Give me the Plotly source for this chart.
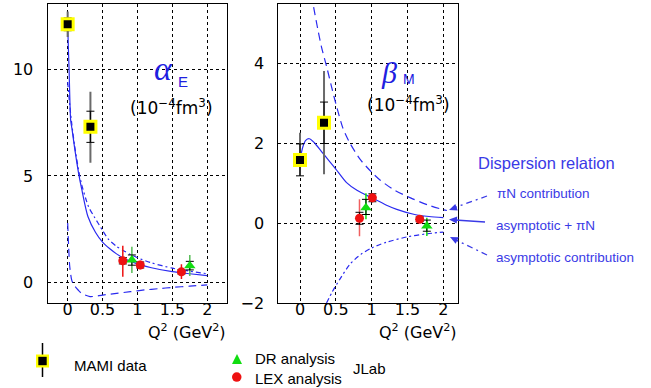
import plotly.graph_objects as go

W, H = 651, 388
def px(x): return x / W
def py(y): return 1 - y / H

BLUE = "#2a2af0"
TBLUE = "#3a3ae6"
RED = "#ee1111"
GREEN = "#11dd11"
YELLOW = "#ffff00"

# ---------------- data: alpha_E (left) ----------------
a_sum_q = [0, 0.01, 0.02, 0.043, 0.062, 0.1, 0.158, 0.2, 0.29, 0.4, 0.5, 0.6, 0.7, 0.8, 0.9, 1.0, 1.2, 1.5, 1.75, 2.0]
a_sum = [12.1, 11.0, 10.0, 7.6, 7.2, 6.3, 5.1, 4.4, 3.1, 2.35, 1.9, 1.6, 1.35, 1.15, 1.0, 0.88, 0.7, 0.52, 0.42, 0.33]
a_asy_q = [0, 0.03, 0.06, 0.1, 0.16, 0.2, 0.3, 0.38, 0.5, 0.58, 0.7, 0.8, 0.9, 1.0, 1.2, 1.5, 1.75, 2.0]
a_asy = [9.4, 8.3, 7.4, 6.4, 5.2, 4.6, 3.55, 3.09, 2.45, 2.05, 1.7, 1.5, 1.32, 1.17, 0.93, 0.68, 0.54, 0.42]
a_pin_q = [0, 0.015, 0.03, 0.06, 0.1, 0.15, 0.2, 0.32, 0.5, 0.7, 0.9, 1.1, 1.3, 1.5, 1.75, 2.0]
a_pin = [2.8, 1.6, 0.75, 0.1, -0.15, -0.34, -0.5, -0.65, -0.58, -0.5, -0.42, -0.34, -0.28, -0.22, -0.16, -0.1]

a_mami_q = [0.0, 0.326]
a_mami = [12.1, 7.3]
a_mami_stat = [0.3, 0.73]
a_mami_tot_p = [0.6, 1.64]
a_mami_tot_m = [0.6, 1.68]

a_lex_q = [0.79, 1.04, 1.63]
a_lex = [1.03, 0.83, 0.51]
a_lex_stat = [0.15, 0.14, 0.1]
a_lex_tot_p = [0.7, 0.2, 0.36]
a_lex_tot_m = [0.75, 0.2, 0.34]

a_dr_q = [0.92, 1.75]
a_dr = [1.06, 0.80]
a_dr_stat = [0.24, 0.2]
a_dr_tot_p = [0.62, 0.5]
a_dr_tot_m = [0.61, 0.49]

# ---------------- data: beta_M (right) ----------------
b_sum_q = [0, 0.04, 0.08, 0.13, 0.2, 0.3, 0.4, 0.5, 0.65, 0.8, 1.0, 1.2, 1.35, 1.6, 1.8, 2.0]
b_sum = [1.6, 1.92, 2.08, 2.12, 2.02, 1.8, 1.58, 1.36, 1.02, 0.82, 0.64, 0.46, 0.35, 0.22, 0.17, 0.14]
b_pin_q = [0.19, 0.25, 0.3, 0.37, 0.45, 0.5, 0.6, 0.7, 0.84, 1.0, 1.12, 1.3, 1.55, 1.8, 2.0, 2.05]
b_pin = [5.42, 4.85, 4.42, 3.94, 3.35, 3.0, 2.38, 2.0, 1.6, 1.28, 1.08, 0.85, 0.63, 0.45, 0.34, 0.32]
b_asy_q = [0.37, 0.45, 0.55, 0.7, 0.85, 1.0, 1.2, 1.5, 1.75, 2.0]
b_asy = [-2.0, -1.72, -1.42, -1.02, -0.78, -0.62, -0.48, -0.34, -0.27, -0.22]

b_mami_q = [0.0, 0.335]
b_mami = [1.59, 2.52]
b_mami_stat = [0.40, 0.52]
b_mami_tot_p = [0.68, 1.30]
b_mami_tot_m = [0.40, 1.29]

b_lex_q = [0.83, 1.01, 1.67]
b_lex = [0.125, 0.64, 0.10]
b_lex_stat = [0.15, 0.1, 0.06]
b_lex_tot_p = [0.48, 0.12, 0.08]
b_lex_tot_m = [0.45, 0.12, 0.08]

b_dr_q = [0.92, 1.77]
b_dr = [0.39, -0.07]
b_dr_stat_p = [0.21, 0.15]
b_dr_stat_m = [0.17, 0.13]
b_dr_tot_p = [0.36, 0.21]
b_dr_tot_m = [0.29, 0.25]

x_ticks = [0, 0.5, 1, 1.5, 2]
x_ticklabels = ["0", "0.5", "1", "1.5", "2"]
a_yticks = [0, 5, 10]
b_yticks = [-2, 0, 2, 4]

fig = go.Figure()

def curve(x, y, dash, xa, ya):
    fig.add_trace(go.Scatter(x=x, y=y, mode="lines", xaxis=xa, yaxis=ya,
                             line=dict(color=BLUE, width=1.2, dash=dash, shape="spline", smoothing=0.7),
                             showlegend=False, hoverinfo="skip"))

def points(x, y, statp, statm, totp, totm, sym, size, color, lcolor, lwidth, errcol, xa, ya, tthick=1.5):
    fig.add_trace(go.Scatter(x=x, y=y, mode="markers", xaxis=xa, yaxis=ya,
                             marker=dict(size=size, opacity=0),
                             error_y=dict(type="data", symmetric=False, array=totp, arrayminus=totm,
                                          color=errcol, thickness=tthick, width=0),
                             showlegend=False, hoverinfo="skip"))
    fig.add_trace(go.Scatter(x=x, y=y, mode="markers", xaxis=xa, yaxis=ya,
                             marker=dict(symbol=sym, size=size, color=color,
                                         line=dict(color=lcolor, width=lwidth)),
                             error_y=dict(type="data", symmetric=False, array=statp, arrayminus=statm,
                                          color="black", thickness=1, width=4),
                             showlegend=False, hoverinfo="skip"))

# left panel
curve(a_pin_q, a_pin, "8px,5px", "x", "y")
curve(a_asy_q, a_asy, "5px,3px,2px,3px", "x", "y")
curve(a_sum_q, a_sum, "solid", "x", "y")
points(a_mami_q, a_mami, a_mami_stat, a_mami_stat, a_mami_tot_p, a_mami_tot_m,
       "square", 11, "black", YELLOW, 3, "#6a6a6a", "x", "y", 2)
points(a_dr_q, a_dr, a_dr_stat, a_dr_stat, a_dr_tot_p, a_dr_tot_m,
       "triangle-up", 10, GREEN, GREEN, 0, "#55bb55", "x", "y")
points(a_lex_q, a_lex, a_lex_stat, a_lex_stat, a_lex_tot_p, a_lex_tot_m,
       "circle", 9, RED, RED, 0, RED, "x", "y")

# right panel
curve(b_pin_q, b_pin, "8px,5px", "x2", "y2")
curve(b_asy_q, b_asy, "5px,3px,2px,3px", "x2", "y2")
curve(b_sum_q, b_sum, "solid", "x2", "y2")
points(b_mami_q, b_mami, b_mami_stat, b_mami_stat, b_mami_tot_p, b_mami_tot_m,
       "square", 11, "black", YELLOW, 3, "#6a6a6a", "x2", "y2", 2)
points(b_dr_q, b_dr, b_dr_stat_p, b_dr_stat_m, b_dr_tot_p, b_dr_tot_m,
       "triangle-up", 10, GREEN, GREEN, 0, GREEN, "x2", "y2")
points(b_lex_q, b_lex, b_lex_stat, b_lex_stat, b_lex_tot_p, b_lex_tot_m,
       "circle", 9, RED, RED, 0, "#f06060", "x2", "y2")

TICKFONT = dict(family="DejaVu Sans", size=16, color="black")
common_x = dict(tickmode="array", tickvals=x_ticks, ticktext=x_ticklabels,
                showgrid=True, gridcolor="black", griddash="dot", gridwidth=1,
                zeroline=False, showline=True, mirror=True, linecolor="black", linewidth=1,
                ticks="", tickfont=TICKFONT, ticklabelstandoff=-8, automargin=False)
common_y = dict(showgrid=True, gridcolor="black", griddash="dot", gridwidth=1,
                zeroline=False, showline=True, mirror=True, linecolor="black", linewidth=1,
                ticks="", tickfont=TICKFONT, ticklabelstandoff=10, tickmode="array", automargin=False)

fig.update_layout(
    width=W, height=H, margin=dict(l=0, r=0, t=0, b=0, autoexpand=False),
    paper_bgcolor="white", plot_bgcolor="white", showlegend=False,
    xaxis=dict(domain=[px(47.5), px(227)], range=[-0.289, 2.283], anchor="y", **common_x),
    yaxis=dict(domain=[py(303), py(4)], range=[-0.95, 13.05], anchor="x",
               tickvals=a_yticks, ticktext=[str(v) for v in a_yticks], **common_y),
    xaxis2=dict(domain=[px(278.3), px(458.3)], range=[-0.303, 2.209], anchor="y2", **common_x),
    yaxis2=dict(domain=[py(303), py(4)], range=[-2, 5.5], anchor="x2",
                tickvals=b_yticks, ticktext=["\u22122", "0", "2", "4"], **common_y),
)

ann = []
def text(t, x, y, size, color="black", family="Liberation Sans", xanchor="left"):
    ann.append(dict(text=t, x=px(x), y=py(y), xref="paper", yref="paper", showarrow=False,
                    xanchor=xanchor, yanchor="middle", font=dict(family=family, size=size, color=color)))

# axis titles
text("Q<sup>2</sup> (GeV<sup>2</sup>)", 228, 331, 16, family="DejaVu Sans", xanchor="right")
text("Q<sup>2</sup> (GeV<sup>2</sup>)", 459, 331, 16, family="DejaVu Sans", xanchor="right")

# panel labels
text("<i>α</i>", 163, 68, 34, color="#2020e0", family="Liberation Serif", xanchor="center")
text("E", 183, 81, 15, color="#2020e0", xanchor="center")
text("(10<sup>\u22124</sup>fm<sup>3</sup>)", 171.5, 107, 17, family="DejaVu Sans", xanchor="center")
text("<i>β</i>", 388.5, 72, 30, color="#2020e0", family="Liberation Serif", xanchor="center")
text("M", 409, 79, 14, color="#2020e0", xanchor="center")
text("(10<sup>\u22124</sup>fm<sup>3</sup>)", 408.3, 104, 17, family="DejaVu Sans", xanchor="center")

# dispersion relation labels
text("Dispersion relation", 476, 163, 16.5, color=TBLUE)
text("πN contribution", 495, 193, 13.5, color=TBLUE)
text("asymptotic + πN", 494, 225, 13.5, color=TBLUE)
text("asymptotic contribution", 494, 257, 13.5, color=TBLUE)

# legend texts
text("MAMI data", 72, 365, 15)
text("DR analysis", 253, 358, 15)
text("LEX analysis", 253, 378, 15)
text("JLab", 351, 368, 15)

shapes = []
def line(x0, y0, x1, y1, dash, color=TBLUE, width=1.3):
    shapes.append(dict(type="line", xref="paper", yref="paper", x0=px(x0), y0=py(y0),
                       x1=px(x1), y1=py(y1), line=dict(color=color, width=width, dash=dash)))

def arrowhead(x, y, fx, fy, L=8, hw=3.5):
    dx, dy = fx - x, fy - y
    n = (dx * dx + dy * dy) ** 0.5
    ux, uy = dx / n, dy / n
    bx, by = x + ux * L, y + uy * L
    p1 = (bx - uy * hw, by + ux * hw)
    p2 = (bx + uy * hw, by - ux * hw)
    shapes.append(dict(type="path", xref="paper", yref="paper",
                       path=f"M {px(x)} {py(y)} L {px(p1[0])} {py(p1[1])} L {px(p2[0])} {py(p2[1])} Z",
                       fillcolor=TBLUE, line=dict(width=0)))

line(487, 196, 455, 207.5, "6px,4px,2px,4px")
arrowhead(449, 210, 487, 196)
line(485, 222, 455, 220, "solid")
arrowhead(449, 219.5, 485, 222)
line(487, 255, 455, 239.5, "6px,4px,2px,4px")
arrowhead(450, 237, 487, 255)

# legend symbols
line(42.5, 343, 42.5, 377, "solid", color="black", width=1.5)
shapes.append(dict(type="rect", xref="paper", yref="paper", x0=px(36), x1=px(49), y0=py(367.5), y1=py(354.5),
                   fillcolor=YELLOW, line=dict(width=0)))
shapes.append(dict(type="rect", xref="paper", yref="paper", x0=px(38.3), x1=px(46.7), y0=py(365.2), y1=py(356.8),
                   fillcolor="black", line=dict(width=0)))
shapes.append(dict(type="path", xref="paper", yref="paper",
                   path=f"M {px(232)} {py(364)} L {px(242)} {py(364)} L {px(237)} {py(354)} Z",
                   fillcolor=GREEN, line=dict(width=0)))
shapes.append(dict(type="circle", xref="paper", yref="paper", x0=px(232), x1=px(241.5), y0=py(381.8), y1=py(372.3),
                   fillcolor=RED, line=dict(width=0)))

fig.update_layout(annotations=ann, shapes=shapes)
fig.write_html("out.html")
